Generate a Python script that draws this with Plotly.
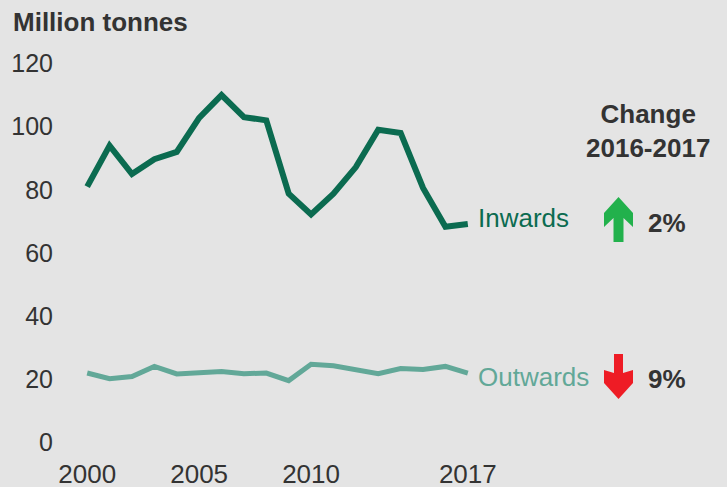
import plotly.graph_objects as go

years = list(range(2000, 2018))
inwards = [81, 94, 85, 89.7, 92, 102.8, 110, 103, 102, 78.8, 72.2, 78.8, 87.2, 99, 98, 80.6, 68.3, 69.2]
outwards = [22.0, 20.2, 20.9, 24.1, 21.7, 22.2, 22.5, 21.8, 22.0, 19.6, 24.8, 24.3, 23.1, 21.8, 23.4, 23.1, 24.1, 22.0]
y_ticks = [0, 20, 40, 60, 80, 100, 120]
x_ticks = [2000, 2005, 2010, 2017]
series_names = ["Inwards", "Outwards"]
changes = ["2%", "9%"]

W, H = 727, 487
ML, MR, MT, MB = 76, 248, 54, 35
PW, PH = W - ML - MR, H - MT - MB

def px(x):
    return (x - ML) / PW

def py(y):
    return (H - MB - y) / PH

DARK = "#0b6b50"
LIGHT = "#62a898"
TXT = "#333333"
FONT = "Liberation Sans, Arial, sans-serif"

fig = go.Figure()
fig.add_trace(go.Scatter(x=years, y=inwards, mode="lines",
                         line=dict(color=DARK, width=6), hoverinfo="skip"))
fig.add_trace(go.Scatter(x=years, y=outwards, mode="lines",
                         line=dict(color=LIGHT, width=5), hoverinfo="skip"))

ann = [
    dict(text="<b>Million tonnes</b>", x=px(11), y=py(22), xanchor="left", yanchor="middle",
         font=dict(size=26, color=TXT)),
    dict(text="<b>Change<br>2016-2017</b>", x=px(648), y=py(131), xanchor="center", yanchor="middle",
         font=dict(size=26, color=TXT)),
    dict(text=series_names[0], x=px(476), y=py(218), xanchor="left", yanchor="middle",
         font=dict(size=26, color=DARK)),
    dict(text=series_names[1], x=px(476), y=py(377), xanchor="left", yanchor="middle",
         font=dict(size=26, color=LIGHT)),
    dict(text="<b>" + changes[0] + "</b>", x=px(646), y=py(223), xanchor="left", yanchor="middle",
         font=dict(size=26, color=TXT)),
    dict(text="<b>" + changes[1] + "</b>", x=px(646), y=py(379), xanchor="left", yanchor="middle",
         font=dict(size=26, color=TXT)),
]
for a in ann:
    a.update(xref="paper", yref="paper", showarrow=False)

# block arrows, pixel offsets from the anchor (y points up)
up_path = "M 0 22.5 L 14.5 6.5 L 14.5 -7.5 L 5 1.5 L 5 -22.5 L -5 -22.5 L -5 1.5 L -14.5 -7.5 L -14.5 6.5 Z"
down_path = "M -4.5 22.5 L 4.5 22.5 L 4.5 3.5 L 14.5 6.5 L 14.5 -6.5 L 0 -22.5 L -14.5 -6.5 L -14.5 6.5 L -4.5 3.5 Z"
shapes = [
    dict(type="path", path=up_path, xref="paper", yref="paper", xsizemode="pixel", ysizemode="pixel",
         xanchor=px(618.5), yanchor=py(219.5), fillcolor="#22b14c", line=dict(width=0)),
    dict(type="path", path=down_path, xref="paper", yref="paper", xsizemode="pixel", ysizemode="pixel",
         xanchor=px(618.5), yanchor=py(376.5), fillcolor="#ee1c25", line=dict(width=0)),
]

fig.update_layout(
    width=W, height=H,
    margin=dict(l=ML, r=MR, t=MT, b=MB, autoexpand=False),
    paper_bgcolor="#e4e4e4", plot_bgcolor="#e4e4e4",
    showlegend=False,
    font=dict(family=FONT, color=TXT),
    annotations=ann, shapes=shapes,
    xaxis=dict(range=[1999.5, 2017.5], tickvals=x_ticks, showgrid=False, zeroline=False,
               showline=False, ticks="", tickfont=dict(size=26, color=TXT), ticklabelstandoff=4,
               fixedrange=True),
    yaxis=dict(range=[-3, 123], tickvals=y_ticks, showgrid=False, zeroline=False,
               showline=False, ticks="", tickfont=dict(size=25, color=TXT), ticklabelstandoff=22,
               fixedrange=True),
)

fig.write_html("out.html", config={"displayModeBar": False},
               post_script="document.body.style.margin='0';document.body.style.background='#e4e4e4';")
